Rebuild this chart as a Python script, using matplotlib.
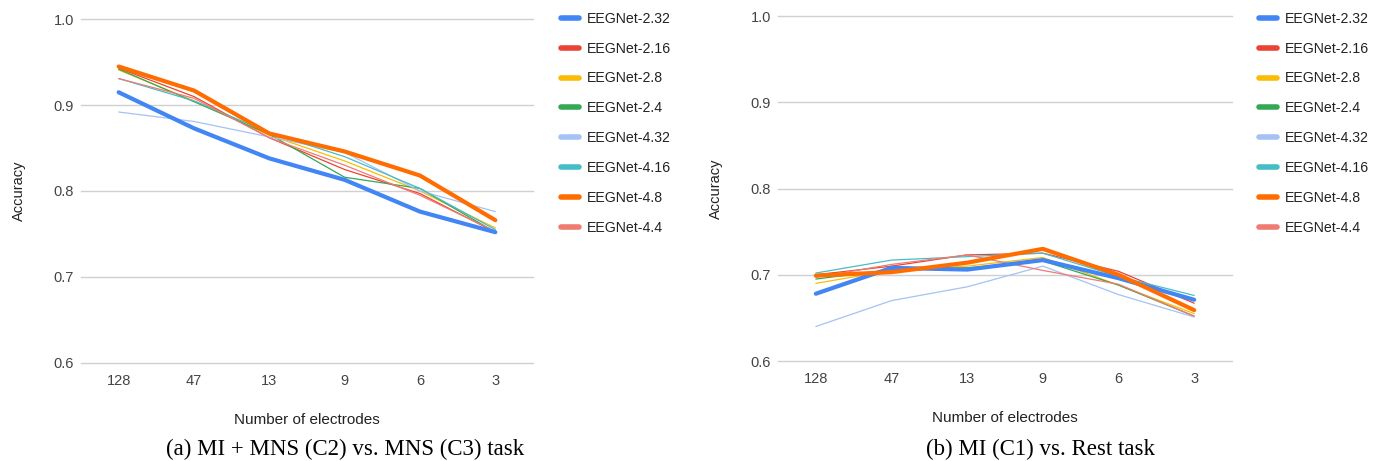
import numpy as np
import matplotlib.pyplot as plt
from matplotlib.lines import Line2D

electrodes = ["128", "47", "13", "9", "6", "3"]
models = ["EEGNet-2.32", "EEGNet-2.16", "EEGNet-2.8", "EEGNet-2.4",
          "EEGNet-4.32", "EEGNet-4.16", "EEGNet-4.8", "EEGNet-4.4"]
colors = ["#4285f4", "#ea4335", "#fbbc04", "#34a853",
          "#a4c2f4", "#46bdc6", "#ff6d01", "#f07b72"]
widths = [3.0, 0.9, 0.9, 0.9, 0.9, 0.9, 3.0, 0.9]

# (a) MI + MNS (C2) vs. MNS (C3)
acc_a = {
    "EEGNet-2.32": [0.915, 0.873, 0.838, 0.813, 0.776, 0.752],
    "EEGNet-2.16": [0.943, 0.910, 0.862, 0.825, 0.797, 0.752],
    "EEGNet-2.8":  [0.941, 0.905, 0.865, 0.835, 0.800, 0.757],
    "EEGNet-2.4":  [0.942, 0.904, 0.866, 0.816, 0.803, 0.752],
    "EEGNet-4.32": [0.892, 0.881, 0.863, 0.845, 0.800, 0.776],
    "EEGNet-4.16": [0.931, 0.905, 0.868, 0.840, 0.803, 0.755],
    "EEGNet-4.8":  [0.945, 0.917, 0.867, 0.846, 0.818, 0.766],
    "EEGNet-4.4":  [0.931, 0.908, 0.862, 0.830, 0.795, 0.753],
}

# (b) MI (C1) vs. Rest
acc_b = {
    "EEGNet-2.32": [0.678, 0.708, 0.706, 0.717, 0.696, 0.671],
    "EEGNet-2.16": [0.700, 0.710, 0.723, 0.725, 0.704, 0.667],
    "EEGNet-2.8":  [0.690, 0.705, 0.710, 0.720, 0.688, 0.655],
    "EEGNet-2.4":  [0.695, 0.706, 0.708, 0.716, 0.688, 0.652],
    "EEGNet-4.32": [0.640, 0.670, 0.686, 0.710, 0.677, 0.651],
    "EEGNet-4.16": [0.702, 0.717, 0.721, 0.725, 0.698, 0.676],
    "EEGNet-4.8":  [0.699, 0.703, 0.714, 0.730, 0.700, 0.659],
    "EEGNet-4.4":  [0.697, 0.712, 0.723, 0.705, 0.689, 0.652],
}

yticks = [0.6, 0.7, 0.8, 0.9, 1.0]

fig = plt.figure(figsize=(13.77, 4.61), dpi=100)
sans = "Liberation Sans"
serif = "Liberation Serif"


def draw(rect, data, legend_x, caption, caption_x):
    ax = fig.add_axes(rect)
    x = np.arange(len(electrodes))
    for m, c, w in zip(models, colors, widths):
        ax.plot(x, data[m], color=c, lw=w, solid_joinstyle="round",
                solid_capstyle="round", label=m, zorder=3 if w > 1 else 2)
    ax.set_xlim(-0.5, len(electrodes) - 0.5)
    ax.set_ylim(0.6, 1.0)
    ax.set_yticks(yticks)
    ax.set_yticklabels([f"{v:.1f}" for v in yticks], fontfamily=sans,
                       fontsize=10.5, color="#444444")
    ax.set_xticks(x)
    ax.set_xticklabels(electrodes, fontfamily=sans, fontsize=10.5, color="#444444")
    ax.tick_params(length=0, pad=8)
    ax.tick_params(axis="y", pad=5)
    ax.grid(axis="y", color="#d0d0d0", lw=1)
    for g in ax.get_ygridlines():
        g.set_clip_on(False)
    ax.set_axisbelow(True)
    for s in ax.spines.values():
        s.set_visible(False)
    ax.set_xlabel("Number of electrodes", fontfamily=sans, fontsize=11,
                  color="#222222", labelpad=18)
    ax.set_ylabel("Accuracy", fontfamily=sans, fontsize=10.5,
                  color="#222222", labelpad=20)
    handles = [Line2D([], [], color=c, lw=4, solid_capstyle="round") for c in colors]
    fig.legend(handles, models, loc="upper left",
               bbox_to_anchor=(legend_x, 0.996), frameon=False,
               prop={"family": sans, "size": 10.2}, labelcolor="#222222",
               handlelength=1.3, handletextpad=0.55, labelspacing=1.12,
               borderaxespad=0.3)
    fig.text(caption_x, 0.012, caption, family=serif, fontsize=16.5,
             ha="center", va="baseline")
    return ax


draw([81 / 1377, 1 - 362.7 / 461, 452 / 1377, 343.4 / 461], acc_a,
     551 / 1377, "(a) MI + MNS (C2) vs. MNS (C3) task", 345 / 1377)
draw([778 / 1377, 1 - 361 / 461, 454 / 1377, 345 / 461], acc_b,
     1249 / 1377, "(b) MI (C1) vs. Rest task", 1040 / 1377)

fig.savefig("out.png", dpi=100)
